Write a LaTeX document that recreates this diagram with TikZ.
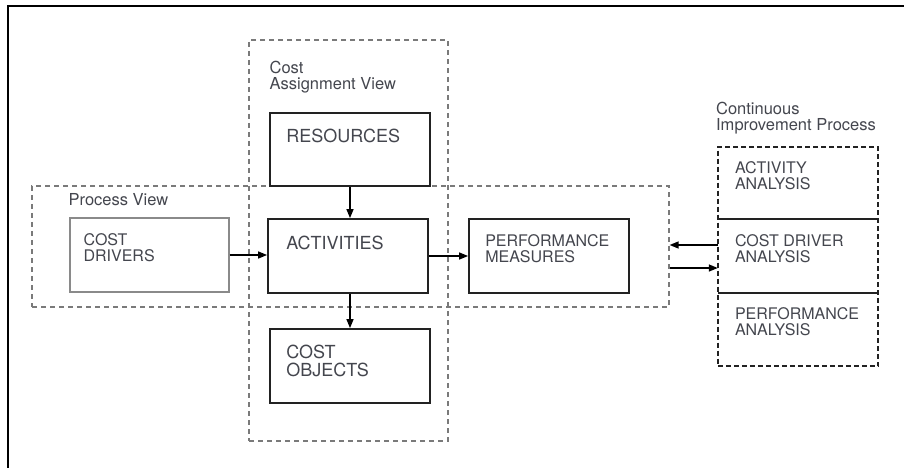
\documentclass[tikz,border=0pt]{standalone}
\usepackage{fontspec}
\setmainfont{TeX Gyre Heros}
\usetikzlibrary{arrows.meta,positioning,calc,fit}
\definecolor{ABInk}{HTML}{44464E}
\definecolor{ABLine}{HTML}{222222}
\definecolor{ABDash}{HTML}{7A7A7A}
\definecolor{ABSoft}{HTML}{8A8A8A}
\tikzset{
  flow/.style={-{Triangle[length=9pt,width=7pt]},black,line width=1.4pt},
  block/.style={draw=ABLine,line width=1.8pt,fill=white,minimum width=160pt,
                minimum height=74pt,inner sep=0pt},
  blocksoft/.style={block,draw=ABSoft,line width=1.2pt,minimum width=159pt},
  view/.style={draw=ABDash,line width=1.2pt,dash pattern=on 5pt off 4pt,inner sep=0pt},
  cipview/.style={draw=ABLine,line width=1.8pt,dash pattern=on 5pt off 3pt,inner sep=0pt},
  section/.style={minimum width=160pt,inner sep=0pt},
  divider/.style={ABLine,line width=1.8pt},
  frame/.style={black,line width=2.2pt},
  bigtext/.style={text=ABInk,font=\fontsize{18}{18}\selectfont,align=left,
                  inner sep=0pt,anchor=north west},
  boxtext/.style={text=ABInk,font=\fontsize{16}{16}\selectfont,align=left,
                  inner sep=0pt,anchor=north west},
  viewlabel/.style={boxtext,font=\fontsize{16.5}{16}\selectfont},
}
\begin{document}
\begin{tikzpicture}[x=1pt,y=-1pt]
  \useasboundingbox (0,0) rectangle (904,468);
  \draw[frame] (8,468) |- (904,6);

  \node[view,minimum width=199pt,minimum height=401pt] (cav) at (348.5,240.5) {};
  \node[view,minimum width=637pt,minimum height=121pt] (pv) at (350.5,246.5) {};
  \node[viewlabel] (cavlbl) at ([shift={(21,22)}]cav.north west) {Cost\\Assignment View};
  \node[viewlabel] (pvlbl) at ([shift={(37,8)}]pv.north west) {Process View};

  \node[block,minimum height=73pt] (res) at (350,149.5) {};
  \node[block] (act) at (348,256) {};
  \node[block] (co) at (350,366) {};
  \node[blocksoft] (cd) at (149.5,255) {};
  \node[block] (pm) at (549,256) {};

  \node[bigtext] at ([shift={(17,16.5)}]res.north west) {RESOURCES};
  \node[bigtext] at ([shift={(19,17.5)}]act.north west) {ACTIVITIES};
  \node[bigtext] at ([shift={(17,16.5)}]co.north west) {COST\\OBJECTS};
  \node[boxtext] at ([shift={(14,16)}]cd.north west) {COST\\DRIVERS};
  \node[boxtext] at ([shift={(17,16)}]pm.north west) {PERFORMANCE\\MEASURES};

  \node[section,minimum height=72pt] (actan) at (798,183) {};
  \node[section,minimum height=74pt] (cdan) at (798,256) {};
  \node[section,minimum height=73pt] (pfan) at (798,329.5) {};
  \node[cipview,fit=(actan)(pfan)] (cip) {};
  \draw[divider] (actan.south west) -- (actan.south east);
  \draw[divider] (cdan.south west) -- (cdan.south east);
  \node[viewlabel] (ciplbl) at ([shift={(-1,-44)}]cip.north west) {Continuous\\Improvement Process};
  \node[boxtext] at ([shift={(17,15)}]actan.north west) {ACTIVITY\\ANALYSIS};
  \node[boxtext] at ([shift={(17,16)}]cdan.north west) {COST DRIVER\\ANALYSIS};
  \node[boxtext] at ([shift={(17,15)}]pfan.north west) {PERFORMANCE\\ANALYSIS};

  \draw[flow] (res.south) -- (res.south |- act.north);
  \draw[flow] (act.south -| res.south) -- (co.north);
  \draw[flow] (cd.east) -- (cd.east -| act.west);
  \draw[flow] (act.east) -- (pm.west);
  \draw[flow] ([yshift=11pt]cdan.west) -- ([yshift=11pt]cdan.west -| pv.east);
  \draw[flow] ([yshift=-12pt]cdan.west -| pv.east) -- ([yshift=-12pt]cdan.west);
\end{tikzpicture}
\end{document}
